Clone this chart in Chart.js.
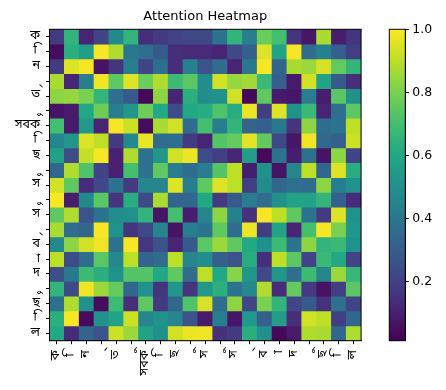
<!DOCTYPE html>
<html>
<head>
<meta charset="utf-8">
<title>Attention Heatmap</title>
<script src="https://cdn.jsdelivr.net/npm/chart.js@4"></script>
<style>
    body { margin: 0; background: #fff; }
    canvas { position: absolute; top: 0; }
</style>
</head>
<body>
<canvas id="heatCanvas" width="375" height="390" style="left:0"></canvas>
<canvas id="barCanvas" width="71" height="390" style="left:375px"></canvas>
<script>
// Tokens run along both axes. The lone vowel signs sit on a no-break space
// so the shaper does not put a dotted circle under them.
const tokens = ['ক', '\u00A0ি', 'ন', '\u00A0্', 'ত', '\u00A0ু', 'সবক', '\u00A0ি', 'ছ', '\u00A0ু', 'স', '\u00A0ু', 'স', '\u00A0্', 'ব', '\u00A0া', 'দ', '\u00A0ু', 'ছ', '\u00A0ি', 'ল'];

// Attention weights, one list per row
const attention = [
    [.17, .65, .10, .20, .47, .65, .13, .17, .20, .22, .22, .38, .65, .42, .77, .70, .15, .06, .87, .08, .15],
    [.03, .63, .55, .99, .88, .40, .36, .28, .13, .12, .12, .10, .22, .30, .95, .58, .99, .35, .43, .30, .18],
    [.17, .95, .99, .05, .15, .42, .20, .36, .13, .43, .25, .35, .10, .40, .99, .32, .87, .85, .94, .76, .65],
    [.87, .10, .42, .98, .75, .95, .77, .88, .68, .74, .48, .93, .84, .86, .67, .30, .07, .93, .58, .28, .13],
    [.83, .84, .80, .65, .36, .28, .02, .83, .10, .63, .48, .50, .93, .02, .75, .07, .06, .42, .08, .74, .50],
    [.05, .07, .60, .78, .42, .52, .78, .60, .23, .60, .62, .72, .62, .97, .18, .95, .50, .67, .10, .36, .74],
    [.70, .07, .53, .10, .99, .92, .03, .87, .93, .35, .70, .42, .65, .32, .30, .40, .15, .83, .35, .38, .90],
    [.46, .52, .95, .90, .17, .47, .97, .35, .36, .17, .10, .73, .76, .96, .76, .22, .06, .98, .34, .30, .92],
    [.57, .23, .91, .99, .09, .88, .37, .52, .93, .97, .23, .18, .10, .55, .02, .38, .08, .37, .05, .83, .20],
    [.33, .88, .72, .20, .09, .70, .37, .75, .42, .35, .42, .73, .90, .08, .50, .05, .45, .90, .33, .95, .62],
    [.93, .75, .12, .22, .38, .17, .46, .45, .95, .42, .75, .95, .90, .18, .48, .33, .37, .35, .83, .42, .50],
    [.99, .08, .47, .74, .15, .62, .22, .87, .32, .33, .60, .17, .28, .42, .35, .50, .58, .58, .65, .30, .12],
    [.75, .88, .25, .38, .48, .50, .65, .05, .70, .08, .45, .83, .43, .14, .99, .90, .75, .38, .17, .95, .50],
    [.87, .35, .33, .99, .50, .15, .22, .45, .05, .42, .38, .75, .35, .97, .18, .58, .10, .70, .99, .80, .52],
    [.47, .83, .93, .98, .37, .99, .16, .25, .10, .28, .74, .85, .75, .60, .50, .68, .38, .83, .65, .67, .50],
    [.90, .23, .35, .74, .47, .90, .32, .35, .90, .45, .48, .30, .25, .62, .13, .90, .74, .20, .67, .60, .20],
    [.24, .40, .68, .63, .50, .73, .73, .60, .75, .35, .90, .60, .82, .52, .22, .52, .36, .68, .45, .85, .66],
    [.65, .22, .98, .85, .76, .33, .50, .15, .52, .15, .53, .63, .38, .47, .88, .12, .76, .17, .05, .18, .74],
    [.37, .88, .50, .03, .68, .13, .75, .17, .33, .72, .94, .35, .83, .20, .80, .65, .20, .28, .14, .37, .20],
    [.63, .99, .03, .50, .58, .92, .46, .50, .45, .25, .07, .42, .06, .53, .30, .55, .13, .93, .90, .18, .33],
    [.60, .12, .32, .25, .92, .85, .57, .50, .93, .97, .98, .14, .17, .63, .50, .02, .07, .88, .87, .33, .88]
];

const colorbarRange = [0.0114, 1];
const colorbarTicks = [0.2, 0.4, 0.6, 0.8, 1.0];

const viridisStops = ['#440154', '#482475', '#414487', '#355f8d', '#2a788e', '#21918c', '#22a884', '#44bf70', '#7ad151', '#bddf26', '#fde725'];

function viridis(value) {
    const pos = Math.min(Math.max(value, 0), 1) * (viridisStops.length - 1);
    const low = Math.floor(pos);
    const high = Math.min(low + 1, viridisStops.length - 1);
    const mix = pos - low;
    const channels = [1, 3, 5].map(i => {
        const a = parseInt(viridisStops[low].substr(i, 2), 16);
        const b = parseInt(viridisStops[high].substr(i, 2), 16);
        return Math.round(a + (b - a) * mix);
    });
    return `rgb(${channels.join(',')})`;
}

// Black box round the plot area
const frame = {
    id: 'frame',
    afterDatasetsDraw(chart) {
        const { ctx, chartArea: a } = chart;
        ctx.save();
        ctx.strokeStyle = '#000';
        ctx.lineWidth = 1;
        ctx.strokeRect(a.left, a.top, a.right - a.left, a.bottom - a.top);
        ctx.restore();
    }
};

const labelFont = { family: '"Noto Sans Bengali", "Noto Sans", "DejaVu Sans"', size: 12.5 };
const tickGrid = { drawOnChartArea: false, offset: false, tickColor: '#000', tickLength: 3.5, tickWidth: 1 };

new Chart(document.getElementById('heatCanvas'), {
    type: 'bar',
    data: {
        labels: tokens,
        datasets: attention.map(row => ({
            data: row.map(() => 1),
            backgroundColor: row.map(viridis),
            barPercentage: 1,
            categoryPercentage: 1
        }))
    },
    options: {
        responsive: false,
        animation: false,
        layout: { padding: { right: 13.5 } },
        plugins: {
            legend: { display: false },
            tooltip: { enabled: false },
            title: {
                display: true,
                text: 'Attention Heatmap',
                fullSize: false,
                color: '#000',
                font: { family: '"DejaVu Sans"', size: 13, weight: 'normal', lineHeight: 1.2 },
                padding: { top: 8.4, bottom: 5.3 }
            }
        },
        scales: {
            x: {
                stacked: true,
                grid: tickGrid,
                border: { color: '#000' },
                afterFit: scale => { scale.height = 49.3; },
                ticks: {
                    autoSkip: false,
                    minRotation: 90,
                    maxRotation: 90,
                    padding: 6,
                    color: '#000',
                    font: labelFont
                }
            },
            y: {
                type: 'linear',
                stacked: true,
                reverse: true,
                min: 0,
                max: tokens.length,
                grid: tickGrid,
                border: { color: '#000' },
                afterFit: scale => { scale.width = 49.5; },
                afterBuildTicks: scale => {
                    scale.ticks = tokens.map((t, i) => ({ value: i + 0.5 }));
                },
                ticks: {
                    autoSkip: false,
                    padding: 6,
                    color: '#000',
                    font: labelFont,
                    callback: value => tokens[Math.floor(value)]
                }
            }
        }
    },
    plugins: [frame]
});

new Chart(document.getElementById('barCanvas'), {
    type: 'bar',
    data: {
        labels: [''],
        datasets: [{
            data: [colorbarRange],
            barPercentage: 1,
            categoryPercentage: 1,
            backgroundColor: context => {
                const { ctx, chartArea } = context.chart;
                if (!chartArea) return '#000';
                const gradient = ctx.createLinearGradient(0, chartArea.bottom, 0, chartArea.top);
                viridisStops.forEach((color, i) => gradient.addColorStop(i / (viridisStops.length - 1), color));
                return gradient;
            }
        }]
    },
    options: {
        responsive: false,
        animation: false,
        layout: { padding: { left: 14.3, top: 29.3, bottom: 49.3 } },
        plugins: { legend: { display: false }, tooltip: { enabled: false } },
        scales: {
            x: {
                display: false
            },
            y: {
                position: 'right',
                min: colorbarRange[0],
                max: colorbarRange[1],
                grid: { drawOnChartArea: false, tickColor: '#000', tickLength: 3.5, tickWidth: 1 },
                border: { color: '#000' },
                afterFit: scale => { scale.width = 40.7; },
                afterBuildTicks: scale => {
                    scale.ticks = colorbarTicks.map(value => ({ value }));
                },
                ticks: {
                    padding: 3.5,
                    color: '#000',
                    font: { family: '"DejaVu Sans"', size: 12.5 },
                    callback: value => value.toFixed(1)
                }
            }
        }
    },
    plugins: [frame]
});
</script>
</body>
</html>
